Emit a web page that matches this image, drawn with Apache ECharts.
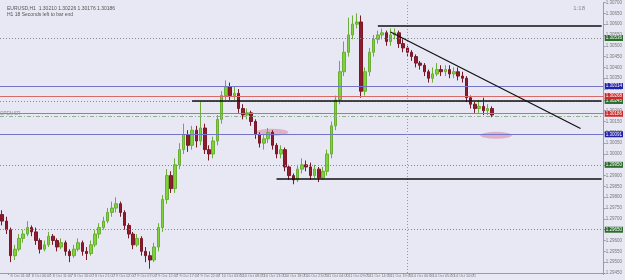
<!DOCTYPE html>
<html>
<head>
<meta charset="utf-8">
<script src="https://cdn.jsdelivr.net/npm/echarts@6/dist/echarts.min.js"></script>
<style>
  html, body { margin: 0; padding: 0; background: #e8e8f5; }
  #chart { width: 625px; height: 280px; }
</style>
</head>
<body>
<div id="chart"></div>
<script>
// hourly candles, values
const opens = [
  1.2972, 1.2969, 1.2965, 1.2953, 1.2956, 1.2961, 1.2963, 1.2966, 1.2964, 1.2960,
  1.2956, 1.2958, 1.2962, 1.2960, 1.2957, 1.2959, 1.2955, 1.2953, 1.2956, 1.2959,
  1.2955, 1.2954, 1.2958, 1.2963, 1.2966, 1.2969, 1.2973, 1.2975, 1.2977, 1.2973,
  1.2967, 1.2963, 1.2958, 1.2961, 1.2955, 1.2953, 1.2951, 1.2957, 1.2966, 1.2979,
  1.2990, 1.2984, 1.2995, 1.3002, 1.3009, 1.3004, 1.3011, 1.3006, 1.3012, 1.3002,
  1.3000, 1.3006, 1.3016, 1.3027, 1.3031, 1.3027, 1.3028, 1.3021, 1.3018, 1.3019,
  1.3015, 1.3009, 1.3005, 1.3007, 1.3010, 1.3004, 1.3000, 1.3002, 1.2994, 1.2990,
  1.2988, 1.2993, 1.2995, 1.2994, 1.2990, 1.2993, 1.2989, 1.2992, 1.3000, 1.3013,
  1.3025, 1.3038, 1.3047, 1.3055, 1.3060, 1.3061, 1.3029, 1.3038, 1.3047, 1.3053,
  1.3055, 1.3056, 1.3052, 1.3055, 1.3056, 1.3051, 1.3049, 1.3047, 1.3045, 1.3042,
  1.3041, 1.3038, 1.3035, 1.3037, 1.3039, 1.3038, 1.3039, 1.3037, 1.3038, 1.3036,
  1.3035, 1.3026, 1.3023, 1.3021, 1.3022, 1.3020, 1.3021
];
const closes = [
  1.2969, 1.2965, 1.2953, 1.2956, 1.2961, 1.2963, 1.2966, 1.2964, 1.2960, 1.2956,
  1.2958, 1.2962, 1.2960, 1.2957, 1.2959, 1.2955, 1.2953, 1.2956, 1.2959, 1.2955,
  1.2954, 1.2958, 1.2963, 1.2966, 1.2969, 1.2973, 1.2975, 1.2977, 1.2973, 1.2967,
  1.2963, 1.2958, 1.2961, 1.2955, 1.2953, 1.2951, 1.2957, 1.2966, 1.2979, 1.2990,
  1.2984, 1.2995, 1.3002, 1.3009, 1.3004, 1.3011, 1.3006, 1.3012, 1.3002, 1.3000,
  1.3006, 1.3016, 1.3027, 1.3031, 1.3027, 1.3028, 1.3021, 1.3018, 1.3019, 1.3015,
  1.3009, 1.3005, 1.3007, 1.3010, 1.3004, 1.3000, 1.3002, 1.2994, 1.2990, 1.2988,
  1.2993, 1.2995, 1.2994, 1.2990, 1.2993, 1.2989, 1.2992, 1.3000, 1.3013, 1.3025,
  1.3038, 1.3047, 1.3055, 1.3060, 1.3061, 1.3029, 1.3038, 1.3047, 1.3053, 1.3055,
  1.3056, 1.3052, 1.3055, 1.3056, 1.3051, 1.3049, 1.3047, 1.3045, 1.3042, 1.3041,
  1.3038, 1.3035, 1.3037, 1.3039, 1.3038, 1.3039, 1.3037, 1.3038, 1.3036, 1.3035,
  1.3026, 1.3023, 1.3021, 1.3022, 1.3020, 1.3021, 1.3018
];
const lows = [
  1.2967, 1.2963, 1.2950, 1.2951, 1.2955, 1.2959, 1.2962, 1.2962, 1.2958, 1.2954,
  1.2955, 1.2957, 1.2958, 1.2955, 1.2956, 1.2953, 1.2950, 1.2952, 1.2955, 1.2953,
  1.2951, 1.2953, 1.2957, 1.2961, 1.2965, 1.2968, 1.2971, 1.2973, 1.2971, 1.2965,
  1.2961, 1.2956, 1.2957, 1.2953, 1.2950, 1.2947, 1.2950, 1.2955, 1.2964, 1.2977,
  1.2982, 1.2982, 1.2993, 1.3000, 1.3001, 1.3002, 1.3003, 1.3004, 1.3000, 1.2997,
  1.2998, 1.3004, 1.3014, 1.3025, 1.3025, 1.3025, 1.3019, 1.3016, 1.3016, 1.3013,
  1.3007, 1.3003, 1.3002, 1.3005, 1.3002, 1.2998, 1.2998, 1.2992, 1.2988, 1.2986,
  1.2987, 1.2991, 1.2992, 1.2988, 1.2989, 1.2987, 1.2988, 1.2990, 1.2998, 1.3011,
  1.3023, 1.3036, 1.3045, 1.3053, 1.3058, 1.3026, 1.3027, 1.3036, 1.3045, 1.3051,
  1.3053, 1.3050, 1.3050, 1.3053, 1.3049, 1.3047, 1.3045, 1.3043, 1.3040, 1.3039,
  1.3036, 1.3033, 1.3033, 1.3036, 1.3036, 1.3036, 1.3035, 1.3035, 1.3034, 1.3033,
  1.3024, 1.3021, 1.3019, 1.3019, 1.3018, 1.3018, 1.3017
];
const highs = [
  1.2974, 1.2971, 1.2966, 1.2958, 1.2963, 1.2965, 1.2969, 1.2967, 1.2966, 1.2961,
  1.2960, 1.2964, 1.2963, 1.2961, 1.2961, 1.2960, 1.2956, 1.2958, 1.2961, 1.2960,
  1.2957, 1.2960, 1.2965, 1.2968, 1.2971, 1.2975, 1.2978, 1.2980, 1.2978, 1.2974,
  1.2968, 1.2964, 1.2963, 1.2962, 1.2957, 1.2955, 1.2959, 1.2968, 1.2981, 1.2993,
  1.2992, 1.2998, 1.3005, 1.3014, 1.3011, 1.3013, 1.3013, 1.3024, 1.3014, 1.3004,
  1.3008, 1.3018, 1.3029, 1.3034, 1.3033, 1.3031, 1.3030, 1.3023, 1.3021, 1.3020,
  1.3016, 1.3010, 1.3009, 1.3012, 1.3011, 1.3005, 1.3004, 1.3003, 1.2995, 1.2991,
  1.2995, 1.2998, 1.2997, 1.2996, 1.2995, 1.2994, 1.2994, 1.3002, 1.3015, 1.3027,
  1.3043, 1.3052, 1.3063, 1.3064, 1.3065, 1.3064, 1.3040, 1.3049, 1.3055, 1.3057,
  1.3058, 1.3057, 1.3058, 1.3058, 1.3057, 1.3053, 1.3050, 1.3048, 1.3046, 1.3043,
  1.3042, 1.3039, 1.3040, 1.3042, 1.3041, 1.3041, 1.3041, 1.3040, 1.3040, 1.3038,
  1.3036, 1.3027, 1.3024, 1.3025, 1.3026, 1.3023, 1.3022
];

// time axis: 143 slots (chart shifted right), labels every 5 bars
const slotCount = 143;
const timeTicks = [
  [2, '8 Oct 01:00'], [7, '8 Oct 06:00'], [12, '8 Oct 11:00'], [17, '8 Oct 16:00'],
  [22, '8 Oct 21:00'], [27, '9 Oct 02:00'], [32, '9 Oct 07:00'], [37, '9 Oct 12:00'],
  [42, '9 Oct 17:00'], [47, '9 Oct 22:00'], [52, '10 Oct 03:00'], [57, '10 Oct 08:00'],
  [62, '10 Oct 13:00'], [67, '10 Oct 18:00'], [72, '10 Oct 23:00'], [77, '11 Oct 04:00'],
  [82, '11 Oct 09:00'], [87, '11 Oct 14:00'], [92, '11 Oct 19:00'], [97, '14 Oct 00:00'],
  [102, '14 Oct 05:00'], [107, '14 Oct 10:00'], [112, '14 Oct 15:00']
];

// horizontal levels drawn on the chart
const dottedLevels = [1.30536, 1.30245, 1.29950, 1.29650];
const blueLevels = [1.30314, 1.30091];
const redLevels = [1.30268, 1.30186];
const openLevel = 1.30173;
const blackSegments = [[89, 1.30591], [45, 1.30245], [65, 1.29886]];
const trendLine = [[92, 1.30564], [137, 1.30118]];
const periodSep = 96;
const highlights = [[63.5, 1.30100], [117.3, 1.30086]];

const categories = [];
for (let i = 0; i < slotCount; i++) categories.push('');
timeTicks.forEach(t => { categories[t[0]] = t[1]; });

const candles = opens.map((o, i) => [o, closes[i], lows[i], highs[i]]);

const chart = echarts.init(document.getElementById('chart'));
const lastIdx = slotCount - 1;

function boxLabel(v, bg) {
  return {
    show: true, position: 'end', formatter: v.toFixed(5),
    backgroundColor: bg, color: '#fff', fontSize: 4.5, padding: [1, 1, 0, 1], distance: 1
  };
}

const markData = [];
dottedLevels.forEach(v => markData.push({
  yAxis: v,
  lineStyle: { color: '#8a8a8a', type: [1, 2], width: 1 },
  label: boxLabel(v, '#2e6b2e')
}));
blueLevels.forEach(v => markData.push({
  yAxis: v,
  lineStyle: { color: '#7474c8', type: 'solid', width: 1 },
  label: boxLabel(v, '#2020a8')
}));
redLevels.forEach(v => markData.push({
  yAxis: v,
  lineStyle: { color: '#d86a6a', type: 'solid', width: 1 },
  label: boxLabel(v, '#d02828')
}));
markData.push({
  yAxis: openLevel,
  lineStyle: { color: '#8fb08f', type: [4, 2, 1, 2], width: 1 },
  label: { show: true, position: 'insideStartTop', formatter: 'OPEN SR', color: '#8a8a8a', fontSize: 4.5, distance: 0 }
});
markData.push({
  xAxis: periodSep,
  lineStyle: { color: '#999', type: [1, 2], width: 1 },
  label: { show: false }
});
blackSegments.forEach(s => markData.push([
  { coord: [s[0], s[1]], lineStyle: { color: '#111', type: 'solid', width: 1.5 }, label: { show: false } },
  { coord: [lastIdx, s[1]] }
]));
markData.push([
  { coord: trendLine[0], lineStyle: { color: '#111', type: 'solid', width: 1.2 }, label: { show: false } },
  { coord: trendLine[1] }
]);

chart.setOption({
  animation: false,
  backgroundColor: '#e8e8f5',
  title: {
    text: 'EURUSD,H1  1.30210 1.30226 1.30176 1.30186\nH1 18 Seconds left to bar end',
    left: 2, top: 1,
    textStyle: { fontSize: 5, fontWeight: 'normal', color: '#555', lineHeight: 6 }
  },
  graphic: [{
    type: 'text', right: 40, top: 5,
    style: { text: '1:18', fontSize: 6, fill: '#888' }
  }],
  grid: { left: 0, right: 18, top: 0, bottom: 7 },
  xAxis: {
    type: 'category',
    data: categories,
    boundaryGap: true,
    axisLine: { lineStyle: { color: '#9a9aa8' } },
    axisTick: { show: true, length: 2, interval: (i, v) => v !== '', lineStyle: { color: '#9a9aa8' } },
    axisLabel: {
      interval: (i, v) => v !== '', showMinLabel: true, hideOverlap: false,
      fontSize: 3.8, color: '#777', margin: 1, align: 'left'
    },
    splitLine: { show: false }
  },
  yAxis: {
    type: 'value',
    position: 'right',
    min: 1.2945,
    max: 1.3070,
    interval: 0.0005,
    axisLine: { show: true, lineStyle: { color: '#9a9aa8' } },
    axisTick: { show: true, length: 2, lineStyle: { color: '#9a9aa8' } },
    axisLabel: { fontSize: 4.5, color: '#777', margin: 2, formatter: v => v.toFixed(5) },
    splitLine: { show: false }
  },
  series: [{
    type: 'candlestick',
    data: candles,
    barWidth: 3,
    itemStyle: {
      color: '#7ed23a', color0: '#8e1b2e',
      borderColor: '#6aae35', borderColor0: '#7a1828',
      borderWidth: 1
    },
    z: 3
  }, {
    type: 'scatter',
    data: highlights,
    symbol: 'circle',
    symbolSize: [32, 7],
    itemStyle: { color: 'rgba(212, 108, 138, 0.55)' },
    silent: true,
    z: 2,
    markLine: { symbol: ['none', 'none'], precision: 6, silent: true, animation: false, data: markData }
  }]
});
</script>
</body>
</html>
